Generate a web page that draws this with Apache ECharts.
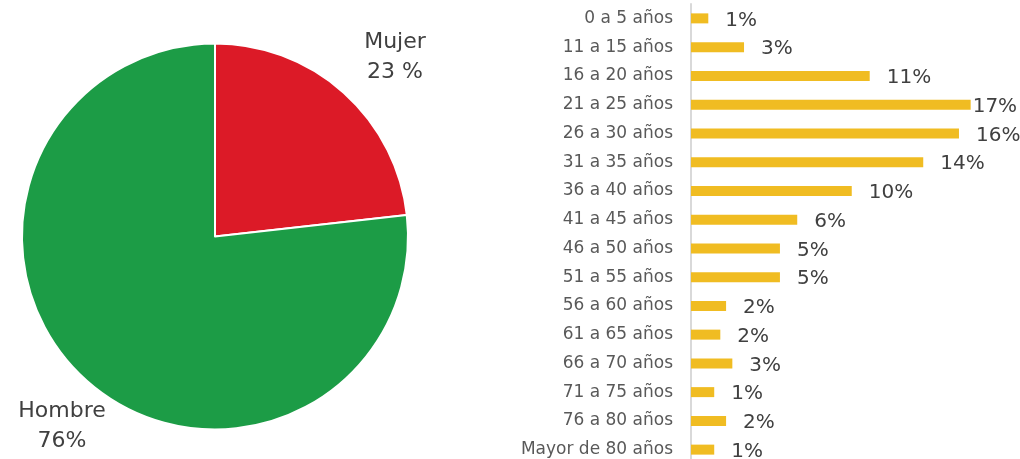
<!DOCTYPE html>
<html>
<head>
<meta charset="utf-8">
<script src="https://cdn.jsdelivr.net/npm/echarts@6/dist/echarts.min.js"></script>
<style>
  html, body { margin: 0; padding: 0; background: #fff; }
  #main { width: 1020px; height: 459px; }
</style>
</head>
<body>
<div id="main"></div>
<script>
// datos del gráfico de sexo
var pieNames = ['Mujer', 'Hombre'];
var pieValues = [23, 76];
var pieTexts = ['23 %', '76%'];

// datos del gráfico de edades (porcentajes)
var ageGroups = ['0 a 5 años', '11 a 15 años', '16 a 20 años', '21 a 25 años', '26 a 30 años',
  '31 a 35 años', '36 a 40 años', '41 a 45 años', '46 a 50 años', '51 a 55 años',
  '56 a 60 años', '61 a 65 años', '66 a 70 años', '71 a 75 años', '76 a 80 años', 'Mayor de 80 años'];
var agePct = [1.05, 3.22, 10.85, 16.98, 16.27, 14.1, 9.76, 6.45, 5.4, 5.4,
  2.13, 1.78, 2.51, 1.41, 2.13, 1.41];

var myChart = echarts.init(document.getElementById('main'));

var maxPct = Math.max.apply(null, agePct);
var barData = agePct.map(function (v) {
  // la etiqueta del mayor se pega a la barra para no salirse
  if (v === maxPct) return { value: v, label: { distance: 2 } };
  return v;
});

var pieData = pieNames.map(function (n, i) {
  return { name: n, value: pieValues[i] };
});

var option = {
  backgroundColor: '#fff',
  animation: false,
  textStyle: { fontFamily: 'DejaVu Sans' },
  grid: { left: 691, right: 49, top: 4, height: 460, outerBoundsMode: 'none', containLabel: false },
  xAxis: {
    type: 'value', min: 0, max: 17, show: false
  },
  yAxis: {
    type: 'category',
    inverse: true,
    data: ageGroups,
    axisTick: { show: false },
    axisLine: { lineStyle: { color: '#D9D9D9', width: 2 } },
    axisLabel: { color: '#595959', fontSize: 17, margin: 18 }
  },
  series: [
    {
      type: 'pie',
      center: [215, 236.5],
      radius: 193,
      startAngle: 90,
      clockwise: true,
      color: ['#DC1A27', '#1C9C46'],
      itemStyle: { borderColor: '#fff', borderWidth: 2 },
      data: pieData,
      label: {
        position: 'outside',
        color: '#404040',
        fontSize: 22,
        lineHeight: 30,
        align: 'center',
        overflow: 'none',
        formatter: function (p) { return p.name + '\n' + pieTexts[p.dataIndex]; }
      },
      labelLine: { show: false },
      labelLayout: function (p) {
        if (p.dataIndex === 0) return { x: 395, y: 57, align: 'center', verticalAlign: 'middle' };
        return { x: 62, y: 426, align: 'center', verticalAlign: 'middle', width: 120 };
      }
    },
    {
      type: 'bar',
      data: barData,
      barWidth: 10,
      itemStyle: { color: '#F0BC22' },
      label: {
        show: true,
        position: 'right',
        distance: 17,
        offset: [0, 2],
        color: '#404040',
        fontSize: 20,
        formatter: function (p) { return Math.round(p.value) + '%'; }
      }
    }
  ]
};

myChart.setOption(option);
</script>
</body>
</html>
